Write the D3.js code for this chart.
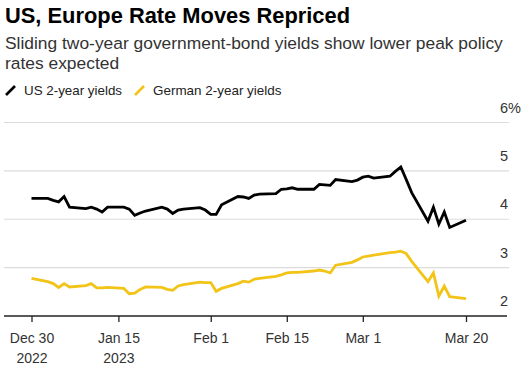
<!DOCTYPE html>
<html>
<head>
<meta charset="utf-8">
<script src="https://cdn.jsdelivr.net/npm/d3@7"></script>
<style>
  html, body { margin: 0; padding: 0; background: #fff; }
  svg { display: block; font-family: "Liberation Sans", Arial, sans-serif; }
</style>
</head>
<body>
<svg id="chart" width="528" height="369"></svg>
<script>
const dates = ["2022-12-30","2023-01-02","2023-01-03","2023-01-04","2023-01-05","2023-01-06",
  "2023-01-09","2023-01-10","2023-01-11","2023-01-12","2023-01-13",
  "2023-01-16","2023-01-17","2023-01-18","2023-01-19","2023-01-20",
  "2023-01-23","2023-01-24","2023-01-25","2023-01-26","2023-01-27",
  "2023-01-30","2023-01-31","2023-02-01","2023-02-02","2023-02-03",
  "2023-02-06","2023-02-07","2023-02-08","2023-02-09","2023-02-10",
  "2023-02-13","2023-02-14","2023-02-15","2023-02-16","2023-02-17",
  "2023-02-20","2023-02-21","2023-02-22","2023-02-23","2023-02-24",
  "2023-02-27","2023-02-28","2023-03-01","2023-03-02","2023-03-03",
  "2023-03-06","2023-03-07","2023-03-08","2023-03-09","2023-03-10",
  "2023-03-13","2023-03-14","2023-03-15","2023-03-16","2023-03-17",
  "2023-03-20"];
const usYields = [4.43,4.43,4.39,4.36,4.47,4.25,
  4.22,4.25,4.21,4.15,4.25,
  4.25,4.21,4.08,4.13,4.17,
  4.25,4.21,4.12,4.19,4.21,
  4.24,4.19,4.10,4.10,4.30,
  4.47,4.46,4.43,4.50,4.52,
  4.53,4.62,4.63,4.65,4.62,
  4.62,4.72,4.71,4.70,4.82,
  4.78,4.81,4.87,4.89,4.85,
  4.89,4.99,5.08,4.82,4.55,
  3.96,4.25,3.90,4.15,3.83,
  3.98];
const germanYields = [2.78,2.71,2.67,2.59,2.67,2.60,
  2.63,2.67,2.58,2.58,2.59,
  2.57,2.46,2.47,2.55,2.60,
  2.59,2.55,2.53,2.62,2.65,
  2.70,2.69,2.69,2.51,2.57,
  2.67,2.72,2.70,2.76,2.78,
  2.82,2.85,2.89,2.90,2.90,
  2.93,2.95,2.93,2.89,3.05,
  3.11,3.16,3.22,3.24,3.26,
  3.31,3.32,3.34,3.29,3.13,
  2.71,2.89,2.41,2.62,2.40,
  2.36];
const seriesNames = ["US 2-year yields", "German 2-year yields"];
const seriesColors = ["#000000", "#f2c418"];
const xTickDates = ["2022-12-30","2023-01-15","2023-02-01","2023-02-15","2023-03-01","2023-03-20"];
const xTickLabels = ["Dec 30","Jan 15","Feb 1","Feb 15","Mar 1","Mar 20"];
const xTickYears = ["2022","2023","","","",""];
const yTicks = [2,3,4,5,6];
const yTickLabels = ["2","3","4","5","6%"];
const title = "US, Europe Rate Moves Repriced";
const subtitle = ["Sliding two-year government-bond yields show lower peak policy", "rates expected"];

const parse = d3.timeParse("%Y-%m-%d");
const dts = dates.map(parse);
const svg = d3.select("#chart");

function fitText(sel, target) {
  const w = sel.node().getComputedTextLength();
  const fs = parseFloat(sel.attr("font-size"));
  sel.attr("font-size", (fs * target / w).toFixed(2));
}

// Title
const t = svg.append("text").attr("x", 5).attr("y", 23).attr("font-size", 21)
  .attr("font-weight", "bold").attr("fill", "#000").text(title);
fitText(t, 345);

// Subtitle
const s1 = svg.append("text").attr("x", 5).attr("y", 48.5).attr("font-size", 17)
  .attr("fill", "#333").text(subtitle[0]);
fitText(s1, 498);
const fsSub = s1.attr("font-size");
svg.append("text").attr("x", 5).attr("y", 68.5).attr("font-size", fsSub)
  .attr("fill", "#333").text(subtitle[1]);

// Legend
const legX = [5, 134];
const legW = [98, 128.5];
seriesNames.forEach((n, i) => {
  const g = svg.append("g").attr("transform", `translate(${legX[i]},90)`);
  g.append("line").attr("x1", 1).attr("y1", 5).attr("x2", 10).attr("y2", -4)
    .attr("stroke", seriesColors[i]).attr("stroke-width", 2.6);
  const tx = g.append("text").attr("x", 19).attr("y", 5).attr("font-size", 14)
    .attr("fill", "#222").text(n);
  fitText(tx, legW[i]);
});

// Scales
const x = d3.scaleTime().domain(d3.extent(dts)).range([31.5, 466]);
const y = d3.scaleLinear().domain([2, 6]).range([316, 122.5]);

// Gridlines
svg.append("g").selectAll("line").data(yTicks.filter(v => v > 2)).join("line")
  .attr("x1", 4).attr("x2", 509)
  .attr("y1", d => y(d)).attr("y2", d => y(d))
  .attr("stroke", "#dcdcdc").attr("stroke-width", 1.2);

// Y labels
svg.append("g").selectAll("text").data(yTicks).join("text")
  .attr("x", 500).attr("y", d => y(d) - 10)
  .attr("font-size", 14.5).attr("fill", "#333")
  .text((d, i) => yTickLabels[i]);

// X axis
const xAxis = d3.axisBottom(x)
  .tickValues(xTickDates.map(parse))
  .tickSize(6)
  .tickFormat("");
const gx = svg.append("g").attr("transform", "translate(0,316)").call(xAxis);
gx.select(".domain").attr("d", "M4,0H507").attr("stroke", "#222").attr("stroke-width", 1.3);
gx.selectAll(".tick line").attr("stroke", "#222").attr("stroke-width", 1.3);
gx.selectAll(".tick").each(function(d, i) {
  const g = d3.select(this);
  g.append("text").attr("y", 27).attr("text-anchor", "middle").attr("font-size", 14)
    .attr("fill", "#333").attr("font-family", "Liberation Sans, Arial, sans-serif")
    .text(xTickLabels[i]);
  if (xTickYears[i]) {
    g.append("text").attr("y", 47).attr("text-anchor", "middle").attr("font-size", 14)
      .attr("fill", "#333").attr("font-family", "Liberation Sans, Arial, sans-serif")
      .text(xTickYears[i]);
  }
});

// Lines
const line = d3.line().x((d, i) => x(dts[i])).y(d => y(d)).curve(d3.curveLinear);
[germanYields, usYields].forEach((vals, k) => {
  const idx = k === 0 ? 1 : 0;
  svg.append("path").datum(vals).attr("d", line)
    .attr("fill", "none").attr("stroke", seriesColors[idx])
    .attr("stroke-width", 2.8).attr("stroke-linejoin", "miter").attr("stroke-miterlimit", 4);
});
</script>
</body>
</html>
